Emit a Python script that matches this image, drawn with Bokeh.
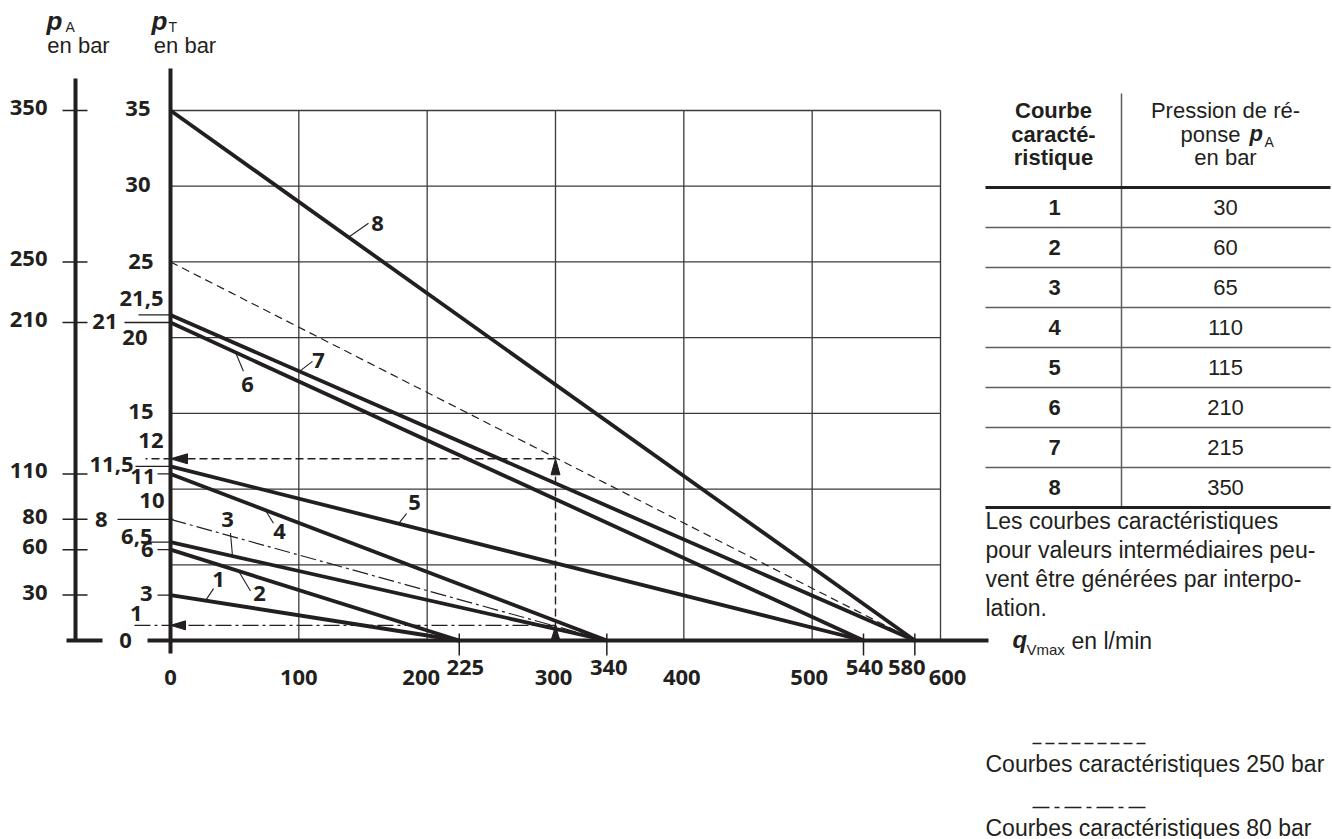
from bokeh.plotting import figure
from bokeh.models import Range1d
from bokeh.embed import file_html
from bokeh.resources import INLINE
from bokeh.core.properties import value

# ---------------- data ----------------
curve_ids = ["1", "2", "3", "4", "5", "6", "7", "8"]
curve_pA = [30, 60, 65, 110, 115, 210, 215, 350]          # bar
curve_pT0 = [3, 6, 6.5, 11, 11.5, 21, 21.5, 35]           # bar at q = 0
curve_qmax = [225, 225, 340, 340, 540, 540, 580, 580]     # l/min at pT = 0

ref250_pT0, ref250_qmax = 25, 580      # dashed "250 bar" curve
ref80_pT0, ref80_qmax = 8, 340         # dash-dot "80 bar" curve

example_q = 300
example_pT_250 = 12
example_pT_80 = 1

grid_pT = [5, 10, 15, 20, 25, 30, 35]
grid_q = [100, 200, 300, 400, 500, 600]
q_tick_labels = [0, 100, 200, 300, 400, 500, 600]
q_special = [225, 340, 540, 580]
pA_ticks = [350, 250, 210, 110, 80, 60, 30]
pT_label_text = ["35", "30", "25", "21,5", "21", "20", "15", "12", "11,5", "11",
                 "10", "8", "6,5", "6", "3", "1"]
pT_label_vals = [35, 30, 25, 21.5, 21, 20, 15, 12, 11.5, 11, 10, 8, 6.5, 6, 3, 1]
pT_marked = [21.5, 21, 11.5, 11, 8, 6.5, 6, 3]

note_lines = ["Les courbes caractéristiques",
              "pour valeurs intermédiaires peu-",
              "vent être générées par interpo-",
              "lation."]

# ---------------- geometry (pixel layout) ----------------
W, H = 1332, 839
X0, Y0 = 170.0, 640.0
SX = 770.0 / 600.0
SY = 530.0 / 35.0


def X(px):
    return (px - X0) / SX


def Y(py):
    return (Y0 - py) / SY


def DX(d):
    return d / SX


def DY(d):
    return d / SY


INK = "#231f20"
GRID = "#3a3a3a"
TGRAY = "#5e5e5e"
NUM_FONT = value("Open Sans")
TXT_FONT = value("Liberation Sans")

p = figure(width=W, height=H, x_range=Range1d(X(0), X(W)), y_range=Range1d(Y(H), Y(0)),
           output_backend="svg", toolbar_location=None,
           x_axis_location=None, y_axis_location=None, min_border=0)
p.outline_line_color = None
p.grid.visible = False
p.background_fill_color = "white"
p.border_fill_color = "white"

# ---------------- grid ----------------
p.segment(x0=[0] * len(grid_pT), y0=grid_pT, x1=[grid_q[-1]] * len(grid_pT), y1=grid_pT,
          line_color=GRID, line_width=1.3)
p.segment(x0=grid_q, y0=[example_pT_250 if q == example_q else 0 for q in grid_q],
          x1=grid_q, y1=[grid_pT[-1]] * len(grid_q), line_color=GRID, line_width=1.3)

# ---------------- reference curves ----------------
p.segment(x0=[0], y0=[ref250_pT0], x1=[ref250_qmax], y1=[0], line_color=INK,
          line_width=1.2, line_dash="8 5")
p.segment(x0=[0], y0=[ref80_pT0], x1=[ref80_qmax], y1=[0], line_color=INK,
          line_width=1.2, line_dash="16 4 3 4")

# ---------------- example reading ----------------
p.segment(x0=[example_q, example_q], y0=[0, example_pT_250],
          x1=[example_q, X(145)], y1=[example_pT_250 - DY(10), example_pT_250],
          line_color=INK, line_width=1.4, line_dash="8 4")
p.segment(x0=[example_q], y0=[example_pT_80], x1=[X(132)], y1=[example_pT_80],
          line_color=INK, line_width=1.4, line_dash="16 4 3 4")
heads_x = [[example_q - DX(4.5), example_q, example_q + DX(4.5)],
           [DX(17), 0, DX(17)],
           [example_q - DX(4.5), example_q, example_q + DX(4.5)],
           [DX(15), 0, DX(15)]]
heads_y = [[example_pT_250 - DY(16), example_pT_250, example_pT_250 - DY(16)],
           [example_pT_250 + DY(5), example_pT_250, example_pT_250 - DY(5)],
           [0, example_pT_80 - DY(1), 0],
           [example_pT_80 + DY(4.5), example_pT_80, example_pT_80 - DY(4.5)]]
p.patches(xs=heads_x, ys=heads_y, fill_color=INK, line_color=INK, line_width=1)

# ---------------- characteristic curves ----------------
p.segment(x0=[0] * len(curve_pT0), y0=curve_pT0, x1=curve_qmax, y1=[0] * len(curve_qmax),
          line_color=INK, line_width=3.8)

# ---------------- axes ----------------
p.segment(x0=[0, X(147), X(75), X(66)], y0=[-DY(13), 0, 0, 0],
          x1=[0, X(988), X(75), X(102)], y1=[grid_pT[-1] + DY(42), 0, Y(78), 0],
          line_color=INK, line_width=4)
# special q ticks
p.segment(x0=q_special, y0=[-DY(15)] * len(q_special), x1=q_special, y1=[DY(7)] * len(q_special),
          line_color=INK, line_width=1.5)
# pA ticks
p.segment(x0=[X(62)] * len(pA_ticks), y0=[v / 10 for v in pA_ticks],
          x1=[X(87)] * len(pA_ticks), y1=[v / 10 for v in pA_ticks],
          line_color=INK, line_width=1.5)
# short marker lines of the pT labels
mark_left = {21.5: 138, 21: 124, 11.5: 135, 11: 157, 8: 117, 6.5: 147, 6: 157, 3: 157}
mark_right = {8: 173}
p.segment(x0=[X(mark_left[v]) for v in pT_marked], y0=pT_marked,
          x1=[X(mark_right.get(v, 170)) for v in pT_marked], y1=pT_marked,
          line_color=INK, line_width=1.3)

# ---------------- tick labels ----------------
lab = dict(text_font=NUM_FONT, text_font_style="bold", text_font_size="22px",
           text_color=INK, text_baseline="middle")
# pA labels
p.text(x=[X(47)] * len(pA_ticks), y=[v / 10 + DY(3) for v in pA_ticks],
       text=[str(v) for v in pA_ticks], text_align="right", **lab)
# pT labels (right edge px, vertical shift px)
pT_right = [150, 150, 153, 163, 117, 147, 153, 163, 133, 155, 164, 107, 152, 153, 152, 142]
pT_shift = [2, 1.7, 0, 16, 1.5, 0, 2, 18, 2, -3, -11.5, 0, 6, 0, 2, 12]
p.text(x=[X(r) for r in pT_right], y=[v + DY(s) for v, s in zip(pT_label_vals, pT_shift)],
       text=pT_label_text, text_align="right", **lab)
p.text(x=[X(125)], y=[0], text=["0"], text_align="center", **lab)
# q labels
q_shift = {0: 0, 100: 0, 200: -6, 300: -2, 400: -2, 500: -3, 600: 7}
p.text(x=[v + DX(q_shift[v]) for v in q_tick_labels], y=[Y(677)] * len(q_tick_labels),
       text=[str(v) for v in q_tick_labels], text_align="center", **lab)
qs_shift = {225: 6, 340: 2, 540: 1, 580: -8}
p.text(x=[v + DX(qs_shift[v]) for v in q_special], y=[Y(667)] * len(q_special),
       text=[str(v) for v in q_special], text_align="center", **lab)

# ---------------- curve labels with leaders ----------------
leader_q = [27.3, 53, 48.3, 74, 177.7, 50.6, 100.5, 138.7]
leader_end = [(8, -12), (12, 20), (-2, -23), (8, 13), (8, -10), (8, 19), (13, -10), (20, -14)]
label_off = [(13, -21), (21, 22), (-5, -37), (14, 21), (16, -21), (12, 32), (19, -11), (29, -14)]
sx, sy, ex, ey, lx, ly = [], [], [], [], [], []
for q, pt0, qm, (edx, edy), (ldx, ldy) in zip(leader_q, curve_pT0, curve_qmax, leader_end, label_off):
    y_on = pt0 * (1 - q / qm)
    sx.append(q); sy.append(y_on)
    ex.append(q + DX(edx)); ey.append(y_on - DY(edy))
    lx.append(q + DX(ldx)); ly.append(y_on - DY(ldy))
p.segment(x0=sx, y0=sy, x1=ex, y1=ey, line_color=INK, line_width=1.1)
p.text(x=lx, y=ly, text=curve_ids, text_align="center", **lab)

# ---------------- axis titles (text positions are vertical centres) ----------------
mid = dict(text_color=INK, text_align="left", text_baseline="middle", text_font=TXT_FONT)
p.text(x=[X(46), X(151)], y=[Y(20), Y(20)], text=["p", "p"],
       text_font_style="bold italic", text_font_size="26px", **mid)
p.text(x=[X(65), X(168)], y=[Y(26), Y(26)], text=["A", "T"], text_font_size="14px", **mid)
p.text(x=[X(78), X(184.5)], y=[Y(45), Y(45)], text=["en bar", "en bar"],
       text_font=TXT_FONT, text_font_size="22px", text_color=INK, text_align="center",
       text_baseline="middle")

# ---------------- table ----------------
T_L, T_R, T_DIV, T_TOP, T_HEAD, ROW_H = 985, 1330, 1121, 93, 187, 40.0
n = len(curve_ids)
row_lines = [T_HEAD + ROW_H * k for k in range(1, n)]
p.segment(x0=[X(T_L)] * len(row_lines), y0=[Y(r) for r in row_lines],
          x1=[X(T_R)] * len(row_lines), y1=[Y(r) for r in row_lines],
          line_color=TGRAY, line_width=1.5)
p.segment(x0=[X(T_DIV)], y0=[Y(T_TOP)], x1=[X(T_DIV)], y1=[Y(T_HEAD + ROW_H * n)],
          line_color=TGRAY, line_width=1.5)
p.segment(x0=[X(T_L)] * 2, y0=[Y(T_HEAD), Y(T_HEAD + ROW_H * n)],
          x1=[X(T_R)] * 2, y1=[Y(T_HEAD), Y(T_HEAD + ROW_H * n)],
          line_color=INK, line_width=3)
tx = dict(text_font=TXT_FONT, text_font_size="22px", text_color=INK, text_baseline="middle")
p.text(x=[X(1053)] * 3, y=[Y(110), Y(134), Y(157)], text=["Courbe", "caracté-", "ristique"],
       text_font_style="bold", text_align="center", **tx)
p.text(x=[X(1225), X(1225)], y=[Y(110), Y(157)], text=["Pression de ré-", "en bar"],
       text_align="center", **tx)
p.text(x=[X(1180)], y=[Y(134)], text=["ponse"], text_align="left", **tx)
p.text(x=[X(1249)], y=[Y(133)], text=["p"], text_font_style="bold italic", text_align="left", **tx)
p.text(x=[X(1264)], y=[Y(141)], text=["A"], text_font=TXT_FONT, text_font_size="14px",
       text_color=INK, text_align="left", text_baseline="middle")
row_mid = [Y(T_HEAD + ROW_H * (k + 0.5)) for k in range(n)]
p.text(x=[X(1054)] * n, y=row_mid, text=curve_ids, text_font_style="bold",
       text_align="center", **tx)
p.text(x=[X(1225)] * n, y=row_mid, text=[str(v) for v in curve_pA],
       text_align="center", **tx)

# note
p.text(x=[X(985)] * len(note_lines), y=[Y(520 + 29 * k) for k in range(len(note_lines))],
       text=note_lines, text_align="left", text_baseline="middle",
       text_font=TXT_FONT, text_font_size="23px", text_color=INK)

# q axis title
p.text(x=[X(1012)], y=[Y(639)], text=["q"], text_font=TXT_FONT, text_font_style="bold italic",
       text_font_size="24px", text_color=INK, text_align="left", text_baseline="middle")
p.text(x=[X(1026)], y=[Y(649)], text=["Vmax"], text_font=TXT_FONT, text_font_size="15px",
       text_color=INK, text_align="left", text_baseline="middle")
p.text(x=[X(1071)], y=[Y(640)], text=["en l/min"], text_font=TXT_FONT, text_font_size="23px",
       text_color=INK, text_align="left", text_baseline="middle")

# legend
p.segment(x0=[X(1032)], y0=[Y(743)], x1=[X(1147)], y1=[Y(743)], line_color=INK,
          line_width=1.5, line_dash="9 4")
p.segment(x0=[X(1032)], y0=[Y(807)], x1=[X(1147)], y1=[Y(807)], line_color=INK,
          line_width=1.5, line_dash="17 5 5 5")
p.text(x=[X(985), X(985)], y=[Y(763), Y(827)],
       text=["Courbes caractéristiques 250 bar", "Courbes caractéristiques 80 bar"],
       text_align="left", text_baseline="middle", text_font=TXT_FONT,
       text_font_size="23px", text_color=INK)

open("out.html", "w").write(file_html(p, INLINE))
